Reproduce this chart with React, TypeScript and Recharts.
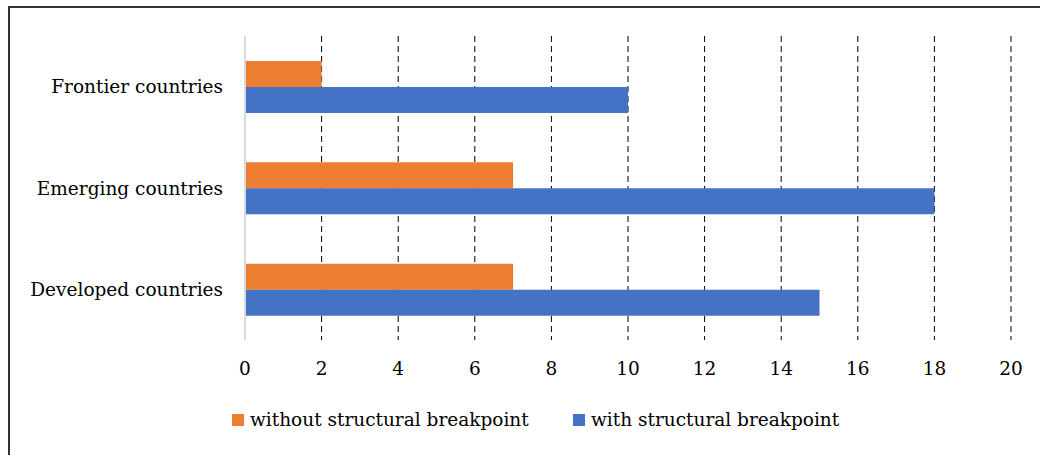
import { Bar, BarChart, CartesianGrid, XAxis, YAxis } from "recharts";

const categories = ["Frontier countries", "Emerging countries", "Developed countries"];
const withoutBreakpoint = [2, 7, 7];
const withBreakpoint = [10, 18, 15];
const xTicks = [0, 2, 4, 6, 8, 10, 12, 14, 16, 18, 20];
const seriesNames = ["without structural breakpoint", "with structural breakpoint"];
const seriesColors = ["#ED7D31", "#4472C4"];

const data = categories.map((name, i) => ({
  name,
  without: withoutBreakpoint[i],
  with: withBreakpoint[i],
}));

// Liberation Serif isn't picked up in the sandbox, DejaVu Serif is the closest serif
const font = "DejaVu Serif";
const fontSize = 18.5;
const legendLeft = [232, 573];

export default function App() {
  return (
    <div style={{ position: "absolute", left: 0, top: 0, width: 1040, height: 455, background: "#fff", overflow: "hidden" }}>
      <div
        style={{
          position: "absolute",
          left: 8,
          top: 6,
          width: 1040,
          height: 460,
          borderTop: "2px solid #333",
          borderLeft: "2px solid #333",
        }}
      />
      <div style={{ position: "absolute", left: 0, top: 0 }}>
        <BarChart
          width={1040}
          height={455}
          data={data}
          layout="vertical"
          margin={{ top: 36, right: 29, left: 0, bottom: 0 }}
          barGap={0}
          barSize={26}
        >
          <CartesianGrid horizontal={false} stroke="#000" strokeDasharray="6 4" />
          <XAxis
            type="number"
            domain={[0, 20]}
            ticks={xTicks}
            height={115}
            axisLine={false}
            tickLine={false}
            tickSize={0}
            tickMargin={22}
            tick={{ fill: "#000", fontSize, fontFamily: font }}
          />
          <YAxis
            type="category"
            dataKey="name"
            width={245}
            tickLine={false}
            axisLine={{ stroke: "#d9d9d9", strokeWidth: 2 }}
            tickSize={0}
            tickMargin={22}
            tick={{ fill: "#000", fontSize, fontFamily: font }}
          />
          <Bar dataKey="without" name={seriesNames[0]} fill={seriesColors[0]} isAnimationActive={false} />
          <Bar dataKey="with" name={seriesNames[1]} fill={seriesColors[1]} isAnimationActive={false} />
        </BarChart>
      </div>
      {seriesNames.map((n, i) => (
        <div
          key={n}
          style={{
            position: "absolute",
            left: legendLeft[i],
            top: 406,
            display: "flex",
            alignItems: "center",
            fontFamily: font,
            fontSize,
            color: "#000",
            lineHeight: "28px",
            whiteSpace: "nowrap",
          }}
        >
          <span style={{ width: 12, height: 12, background: seriesColors[i], marginRight: 6 }} />
          <span>{n}</span>
        </div>
      ))}
    </div>
  );
}
